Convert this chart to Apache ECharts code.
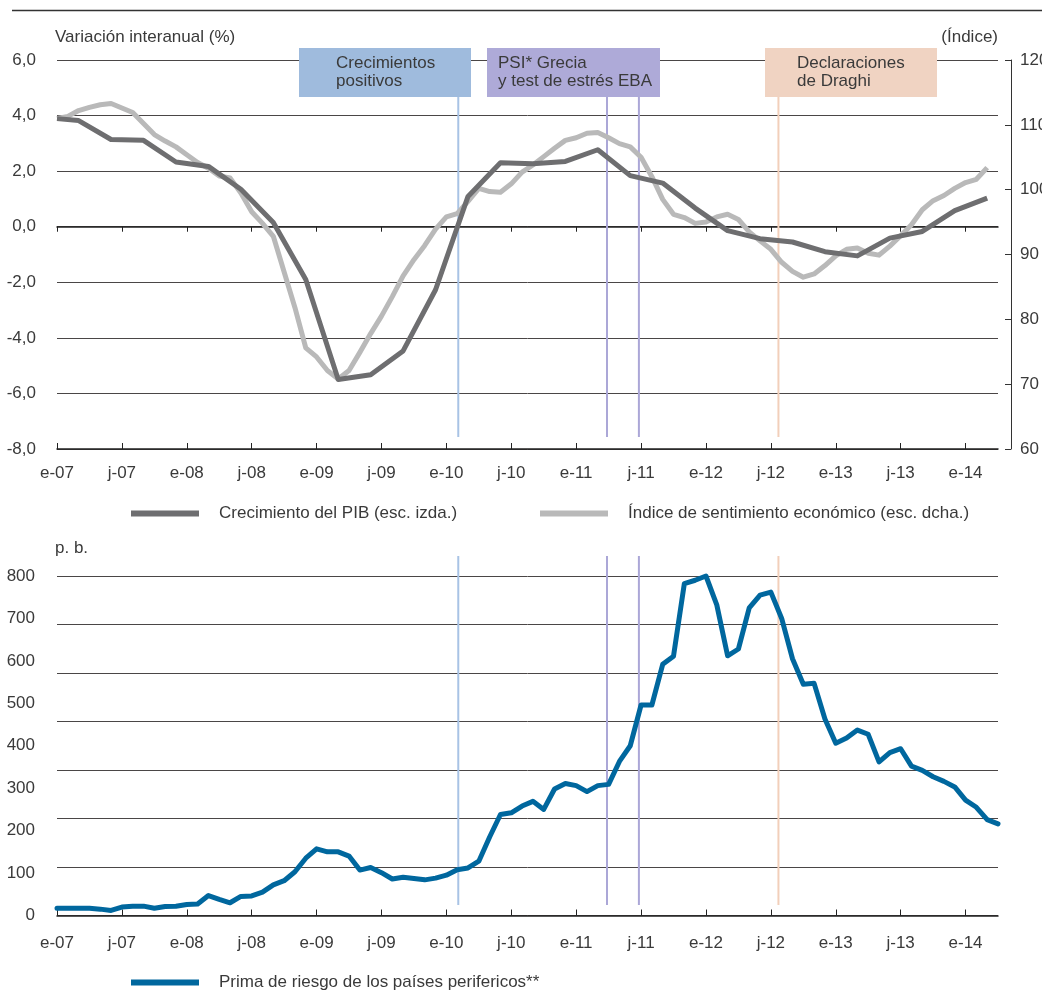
<!DOCTYPE html>
<html>
<head>
<meta charset="utf-8">
<script src="https://cdn.jsdelivr.net/npm/echarts@6/dist/echarts.min.js"></script>
<style>
html,body{margin:0;padding:0;background:#fff;}
#chart{width:1042px;height:991px;}
</style>
</head>
<body>
<div id="chart"></div>
<script>
// ---------- DATA ----------
// x positions are months since January 2007 (0 = e-07)
const tickMonths = [0, 6, 12, 18, 24, 30, 36, 42, 48, 54, 60, 66, 72, 78, 84];
const tickLabels = ['e-07','j-07','e-08','j-08','e-09','j-09','e-10','j-10','e-11','j-11','e-12','j-12','e-13','j-13','e-14'];

// GDP growth, year-on-year % (left scale), quarterly
const pibMonths = [0,2,5,8,11,14,17,20,23,26,29,32,35,38,41,44,47,50,53,56,59,62,65,68,71,74,77,80,83,86];
const pibValues = [3.89,3.82,3.14,3.11,2.33,2.17,1.35,0.15,-1.9,-5.5,-5.33,-4.47,-2.27,1.09,2.3,2.27,2.35,2.77,1.84,1.57,0.67,-0.14,-0.43,-0.55,-0.9,-1.05,-0.41,-0.17,0.58,1.03];

// Economic sentiment index (right scale), monthly from e-07
const sentimentValues = [
  111.0,111.3,112.2,112.7,113.1,113.3,112.6,111.9,110.2,108.5,
  107.5,106.6,105.4,104.2,103.3,102.1,101.8,99.5,96.6,94.8,
  92.8,87.3,81.8,75.6,74.2,72.1,70.8,72.1,74.9,77.8,
  80.5,83.5,86.7,89.2,91.4,93.9,95.8,96.3,98.2,100.2,
  99.7,99.6,100.9,102.7,103.8,105.1,106.4,107.6,108.0,108.7,
  108.8,108.0,107.1,106.6,105.0,102.0,98.5,96.2,95.7,94.8,
  95.0,95.8,96.2,95.4,93.5,92.1,90.8,88.8,87.4,86.5,
  87.0,88.3,89.8,90.8,91.0,90.2,89.9,91.3,92.9,94.6,
  96.9,98.3,99.1,100.2,101.1,101.6,103.4
];

// Risk premium of peripheral countries, basis points, monthly from e-07
const primaValues = [
  17,17,17,17,15,12,20,22,22,17,
  21,22,26,27,47,38,30,45,46,55,
  72,82,103,135,157,150,150,140,107,113,
  101,86,90,87,84,88,95,108,112,128,
  185,238,242,258,269,250,298,311,306,292,
  306,309,363,400,496,496,592,611,782,790,
  800,732,612,628,725,755,762,700,605,545,
  547,463,406,418,437,427,362,384,393,352,
  342,327,316,303,272,255,226,216
];

// Event dates (months since e-07)
const eventMonths = [37.1, 50.85, 53.8, 66.7];
const eventTexts = ['Crecimientos\npositivos', 'PSI* Grecia\ny test de estrés EBA', 'Declaraciones\nde Draghi'];

const seriesNames = ['Crecimiento del PIB (esc. izda.)', 'Índice de sentimiento económico (esc. dcha.)', 'Prima de riesgo de los países perifericos**'];
const leftTitle = 'Variación interanual (%)';
const rightTitle = '(Índice)';
const bottomTitle = 'p. b.';

// ---------- STYLE ----------
const TXT = '#3a3a3a';
const FONT = '"Liberation Sans", Arial, sans-serif';
const FONT_TICK = '"Liberation Sans Narrow", "Liberation Sans", Arial, sans-serif';
const GRIDLINE = '#4a4646';
const eventColors = ['#a8c3e5', '#aba7d7', '#aba7d7', '#f2cfba'];
const boxColors = ['#9fbbdd', '#aeaad8', '#f0d3c2'];

const xLabelFmt = v => {
  const i = tickMonths.indexOf(Math.round(v));
  return i >= 0 ? tickLabels[i] : '';
};
const commaFmt = v => v.toFixed(1).replace('.', ',');

const chart = echarts.init(document.getElementById('chart'), null, {renderer: 'canvas'});

function eventRender(topPad, bottomPad) {
  return function (params, api) {
    const x = api.coord([api.value(0), api.value(1)])[0];
    const cs = params.coordSys;
    return {
      type: 'line',
      silent: true,
      shape: {x1: x, y1: cs.y + topPad, x2: x, y2: cs.y + cs.height - bottomPad},
      style: {stroke: eventColors[params.dataIndex], lineWidth: 2}
    };
  };
}

const xCommon = {
  type: 'value', min: 0, max: 87, interval: 6,
  splitLine: {show: false}
};

const legendCommon = {
  icon: 'rect', itemWidth: 68, itemHeight: 6, padding: 0, selectedMode: false,
  textStyle: {fontFamily: FONT, fontSize: 17, color: TXT, padding: [0, 0, 0, 15]}
};

const option = {
  animation: false,
  backgroundColor: '#fff',
  textStyle: {fontFamily: FONT, color: TXT},
  grid: [
    {left: 57, right: 44, top: 60, height: 389, outerBoundsMode: 'none', containLabel: false},
    {left: 57, right: 44, top: 576, height: 339.5, outerBoundsMode: 'none', containLabel: false}
  ],
  xAxis: [
    Object.assign({}, xCommon, {
      gridIndex: 0, position: 'top',
      axisLine: {show: true, onZero: true, onZeroAxisIndex: 0, lineStyle: {color: '#222', width: 1.5}},
      axisTick: {show: true, inside: true, length: 5, customValues: tickMonths, lineStyle: {color: '#222', width: 1}},
      axisLabel: {show: false}
    }),
    Object.assign({}, xCommon, {
      gridIndex: 0, position: 'bottom',
      axisLine: {show: true, onZero: false, lineStyle: {color: '#222', width: 1.5}},
      axisTick: {show: true, inside: true, length: 6, customValues: tickMonths, lineStyle: {color: '#222', width: 1}},
      axisLabel: {show: true, customValues: tickMonths, formatter: xLabelFmt, margin: 16, color: TXT, fontSize: 17, fontFamily: FONT_TICK}
    }),
    Object.assign({}, xCommon, {
      gridIndex: 1, position: 'bottom',
      axisLine: {show: true, onZero: false, lineStyle: {color: '#222', width: 1.5}},
      axisTick: {show: true, inside: true, length: 6, customValues: tickMonths, lineStyle: {color: '#222', width: 1}},
      axisLabel: {show: true, customValues: tickMonths, formatter: xLabelFmt, margin: 19, color: TXT, fontSize: 17, fontFamily: FONT_TICK}
    })
  ],
  yAxis: [
    {
      gridIndex: 0, type: 'value', min: -8, max: 6, interval: 2, position: 'left',
      axisLine: {show: false, onZero: false}, axisTick: {show: false},
      axisLabel: {formatter: commaFmt, margin: 21, color: TXT, fontSize: 17, fontFamily: FONT_TICK},
      splitLine: {show: true, lineStyle: {color: GRIDLINE, width: 1}}
    },
    {
      gridIndex: 0, type: 'value', min: 60, max: 120, interval: 10, position: 'right', offset: 13,
      axisLine: {show: true, onZero: false, lineStyle: {color: '#333', width: 1}},
      axisTick: {show: true, inside: true, length: 6, lineStyle: {color: '#333'}},
      axisLabel: {margin: 9, color: TXT, fontSize: 17, fontFamily: FONT_TICK},
      splitLine: {show: false}
    },
    {
      gridIndex: 1, type: 'value', min: 0, max: 800, interval: 100, position: 'left',
      axisLine: {show: false, onZero: false}, axisTick: {show: false},
      axisLabel: {margin: 22, color: TXT, fontSize: 17, fontFamily: FONT_TICK},
      splitLine: {show: false}
    },
    {
      gridIndex: 1, type: 'value', min: 0, max: 7, interval: 1, position: 'right',
      axisLine: {show: false, onZero: false}, axisTick: {show: false}, axisLabel: {show: false},
      splitLine: {show: true, lineStyle: {color: GRIDLINE, width: 1}}
    }
  ],
  legend: [
    Object.assign({}, legendCommon, {data: [seriesNames[0]], left: 131, top: 505}),
    Object.assign({}, legendCommon, {data: [seriesNames[1]], left: 540, top: 505}),
    Object.assign({}, legendCommon, {data: [seriesNames[2]], left: 131, top: 974})
  ],
  series: [
    {
      type: 'custom', name: 'eventsTop', xAxisIndex: 1, yAxisIndex: 0, z: 1,
      renderItem: eventRender(37, 12), data: eventMonths.map(m => [m, 0]), silent: true
    },
    {
      type: 'custom', name: 'eventsBottom', xAxisIndex: 2, yAxisIndex: 2, z: 1,
      renderItem: eventRender(-20, 10.5), data: eventMonths.map(m => [m, 0]), silent: true
    },
    {
      name: seriesNames[1], type: 'line', xAxisIndex: 1, yAxisIndex: 1, z: 3,
      data: sentimentValues.map((v, i) => [i, v]),
      symbol: 'none', color: '#b9b9b9',
      lineStyle: {color: '#b9b9b9', width: 5, join: 'round'}
    },
    {
      name: seriesNames[0], type: 'line', xAxisIndex: 1, yAxisIndex: 0, z: 4,
      data: pibMonths.map((m, i) => [m, pibValues[i]]),
      symbol: 'none', color: '#6e6e70',
      lineStyle: {color: '#6e6e70', width: 5, join: 'round'}
    },
    {
      name: seriesNames[2], type: 'line', xAxisIndex: 2, yAxisIndex: 2, z: 4,
      data: primaValues.map((v, i) => [i, v]),
      symbol: 'none', color: '#00679e', clip: false,
      lineStyle: {color: '#00679e', width: 5, join: 'round', cap: 'round'}
    }
  ],
  graphic: [
    {type: 'line', shape: {x1: 12, y1: 10.5, x2: 1042, y2: 10.5}, style: {stroke: '#333', lineWidth: 1.5}, silent: true},
    {type: 'text', left: 55, top: 29, style: {text: leftTitle, font: '17px ' + FONT, fill: TXT}},
    {type: 'text', right: 44, top: 29, style: {text: rightTitle, font: '17px ' + FONT, fill: TXT}},
    {type: 'text', left: 55, top: 540, style: {text: bottomTitle, font: '17px ' + FONT, fill: TXT}},
    {type: 'rect', shape: {x: 299, y: 48, width: 172, height: 49}, style: {fill: boxColors[0]}, silent: true, z: 10},
    {type: 'text', x: 336, y: 54, z: 11, style: {text: eventTexts[0], font: '17px ' + FONT, fill: TXT, lineHeight: 18}},
    {type: 'rect', shape: {x: 487, y: 48, width: 173, height: 49}, style: {fill: boxColors[1]}, silent: true, z: 10},
    {type: 'text', x: 498, y: 54, z: 11, style: {text: eventTexts[1], font: '17px ' + FONT, fill: TXT, lineHeight: 18}},
    {type: 'rect', shape: {x: 765, y: 48, width: 172, height: 49}, style: {fill: boxColors[2]}, silent: true, z: 10},
    {type: 'text', x: 797, y: 54, z: 11, style: {text: eventTexts[2], font: '17px ' + FONT, fill: TXT, lineHeight: 18}}
  ]
};

chart.setOption(option);
</script>
</body>
</html>
